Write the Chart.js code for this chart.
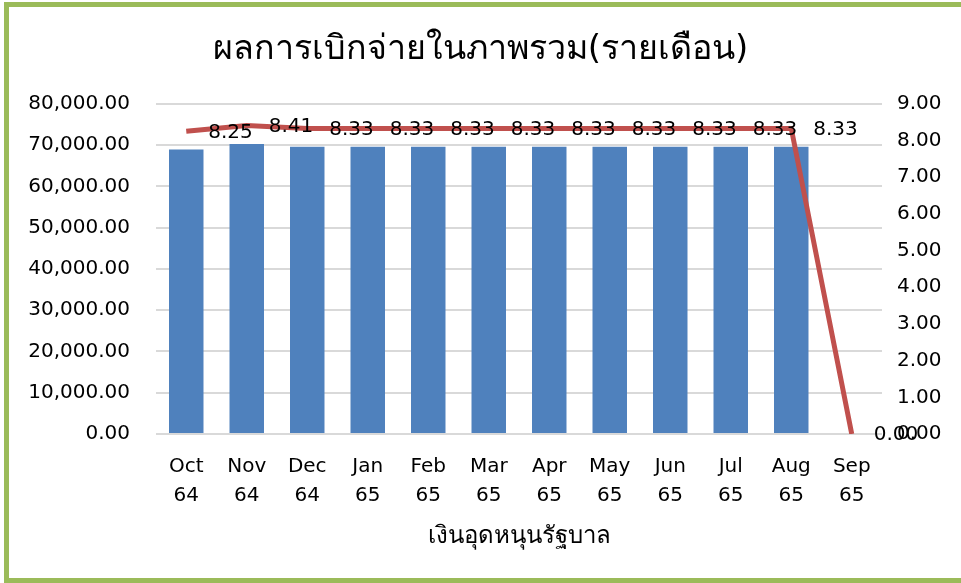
<!DOCTYPE html>
<html>
<head>
<meta charset="utf-8">
<script src="https://cdn.jsdelivr.net/npm/chart.js@4"></script>
<style>
  html, body { margin: 0; padding: 0; background: #ffffff; }
  #wrap { position: relative; width: 961px; height: 583px; overflow: hidden; }
  #c { position: absolute; left: 0; top: 0; }
  #frame { position: absolute; left: 4px; top: 2px; width: 980px; height: 571px;
           border-left: 5px solid #9BBB59; border-top: 5px solid #9BBB59; border-bottom: 5px solid #9BBB59;
           pointer-events: none; box-sizing: content-box; }
</style>
</head>
<body>
<div id="wrap">
  <canvas id="c" width="961" height="583"></canvas>
  <div id="frame"></div>
</div>
<script>
const categories = [["Oct","64"],["Nov","64"],["Dec","64"],["Jan","65"],["Feb","65"],["Mar","65"],["Apr","65"],["May","65"],["Jun","65"],["Jul","65"],["Aug","65"],["Sep","65"]];
const disbursement = [68950, 70260, 69600, 69600, 69600, 69600, 69600, 69600, 69600, 69600, 69600, 0];
const percentValues = [8.25, 8.41, 8.33, 8.33, 8.33, 8.33, 8.33, 8.33, 8.33, 8.33, 8.33, 0.00];
const leftTicks = [0, 10000, 20000, 30000, 40000, 50000, 60000, 70000, 80000];
const rightTicks = [0, 1, 2, 3, 4, 5, 6, 7, 8, 9];
const chartTitle = "ผลการเบิกจ่ายในภาพรวม(รายเดือน)";
const xTitle = "เงินอุดหนุนรัฐบาล";

const FONT = "'DejaVu Sans', Tahoma, sans-serif";
const fmt2 = v => Number(v).toLocaleString('en-US', {minimumFractionDigits: 2, maximumFractionDigits: 2});

const lineLabels = {
  id: 'lineLabels',
  afterDatasetsDraw(chart) {
    const ctx = chart.ctx;
    chart.data.datasets.forEach((ds, i) => {
      if (ds.type !== 'line') return;
      const meta = chart.getDatasetMeta(i);
      ctx.save();
      ctx.font = "20px " + FONT;
      ctx.fillStyle = '#000000';
      ctx.textAlign = 'left';
      ctx.textBaseline = 'middle';
      meta.data.forEach((pt, j) => {
        ctx.fillText(fmt2(ds.data[j]), pt.x + 22, pt.y + 1);
      });
      ctx.restore();
    });
  }
};

new Chart(document.getElementById('c'), {
  type: 'bar',
  data: {
    labels: categories,
    datasets: [
      {
        type: 'line',
        label: 'ร้อยละ',
        data: percentValues,
        yAxisID: 'y2',
        borderColor: '#C0504D',
        backgroundColor: '#C0504D',
        borderWidth: 5,
        pointRadius: 0,
        tension: 0,
        order: 0
      },
      {
        type: 'bar',
        label: xTitle,
        data: disbursement,
        yAxisID: 'y',
        backgroundColor: '#4F81BD',
        categoryPercentage: 1.0,
        barPercentage: 0.57,
        order: 1
      }
    ]
  },
  options: {
    responsive: false,
    animation: false,
    devicePixelRatio: 1,
    layout: { padding: { left: 0, right: 0, top: 0, bottom: 0 } },
    plugins: {
      legend: { display: false },
      tooltip: { enabled: false },
      title: {
        display: true,
        text: chartTitle,
        color: '#000000',
        font: { family: FONT, size: 34, weight: 'normal', lineHeight: 1.2 },
        padding: { top: 30, bottom: 33 }
      }
    },
    scales: {
      x: {
        grid: { display: false, drawTicks: false },
        border: { display: false },
        ticks: {
          color: '#000000',
          font: { family: FONT, size: 20, lineHeight: 1.45 },
          padding: 18,
          maxRotation: 0,
          autoSkip: false
        },
        title: {
          display: true,
          text: xTitle,
          color: '#000000',
          font: { family: FONT, size: 24, lineHeight: 1.2 },
          padding: { top: 0, bottom: 32 }
        },
        afterFit(scale) { scale.height = 149; }
      },
      y: {
        position: 'left',
        min: 0, max: 80000,
        afterBuildTicks(scale) { scale.ticks = leftTicks.map(v => ({ value: v })); },
        grid: { color: '#D9D9D9', lineWidth: 2, drawTicks: false },
        border: { display: false },
        ticks: {
          color: '#000000',
          font: { family: FONT, size: 20 },
          padding: 26,
          callback: v => fmt2(v)
        },
        afterFit(scale) { scale.width = 156; }
      },
      y2: {
        position: 'right',
        min: 0, max: 9,
        afterBuildTicks(scale) { scale.ticks = rightTicks.map(v => ({ value: v })); },
        grid: { display: false, drawTicks: false },
        border: { display: false },
        ticks: {
          color: '#000000',
          font: { family: FONT, size: 20 },
          padding: 15,
          callback: v => fmt2(v)
        },
        afterFit(scale) { scale.width = 79; }
      }
    }
  },
  plugins: [lineLabels]
});
</script>
</body>
</html>
